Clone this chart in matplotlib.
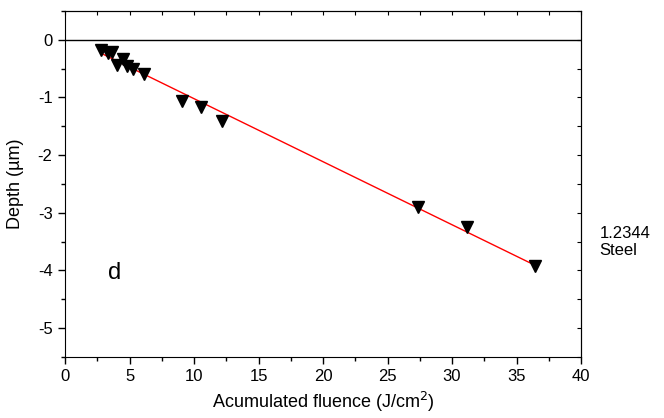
import numpy as np
import matplotlib.pyplot as plt
from matplotlib.ticker import MultipleLocator

plt.rcParams['font.family'] = ['Liberation Sans', 'DejaVu Sans']
plt.rcParams['axes.unicode_minus'] = False

# accumulated fluence (J/cm2) and depth (um)
fluence = [2.8, 3.3, 3.6, 4.0, 4.5, 4.8, 5.3, 6.1, 9.1, 10.5, 12.2, 27.4, 31.2, 36.4]
depth = [-0.17, -0.23, -0.22, -0.43, -0.33, -0.46, -0.50, -0.59, -1.06, -1.16, -1.41, -2.90, -3.25, -3.92]

# linear fit
k, b = np.polyfit(fluence, depth, 1)
xfit = np.array([min(fluence), max(fluence)])

fig = plt.figure(figsize=(6.64, 4.18), dpi=100)
ax = fig.add_axes([0.098, 0.146, 0.777, 0.828])

ax.axhline(0, color='black', lw=1)
ax.plot(xfit, k * xfit + b, color='red', lw=1)
ax.plot(fluence, depth, 'v', color='black', markersize=8, linestyle='none')

ax.set_xlim(0, 40)
ax.set_ylim(-5.5, 0.5)
ax.xaxis.set_major_locator(MultipleLocator(5))
ax.xaxis.set_minor_locator(MultipleLocator(2.5))
ax.yaxis.set_major_locator(MultipleLocator(1))
ax.yaxis.set_minor_locator(MultipleLocator(0.5))
# left / bottom ticks outward, top / right small and inward
ax.tick_params(which='both', direction='out', labelsize=12, width=1, pad=4)
ax.tick_params(which='major', length=5)
ax.tick_params(which='minor', length=3)
sx = ax.secondary_xaxis('top')
sx.xaxis.set_major_locator(MultipleLocator(2.5))
sx.tick_params(direction='in', length=3, labeltop=False)
sy = ax.secondary_yaxis('right')
sy.yaxis.set_major_locator(MultipleLocator(0.5))
sy.tick_params(direction='in', length=3, labelright=False)

ax.set_xlabel('Acumulated fluence (J/cm$^2$)', fontsize=13, labelpad=4)
ax.set_ylabel('Depth (\u00b5m)', fontsize=13, labelpad=10)

ax.text(3.3, -4.15, 'd', fontsize=17)
fig.text(0.903, 0.421, '1.2344\nSteel', fontsize=12, linespacing=1.1, va='center')

fig.savefig('out.png', dpi=100)
